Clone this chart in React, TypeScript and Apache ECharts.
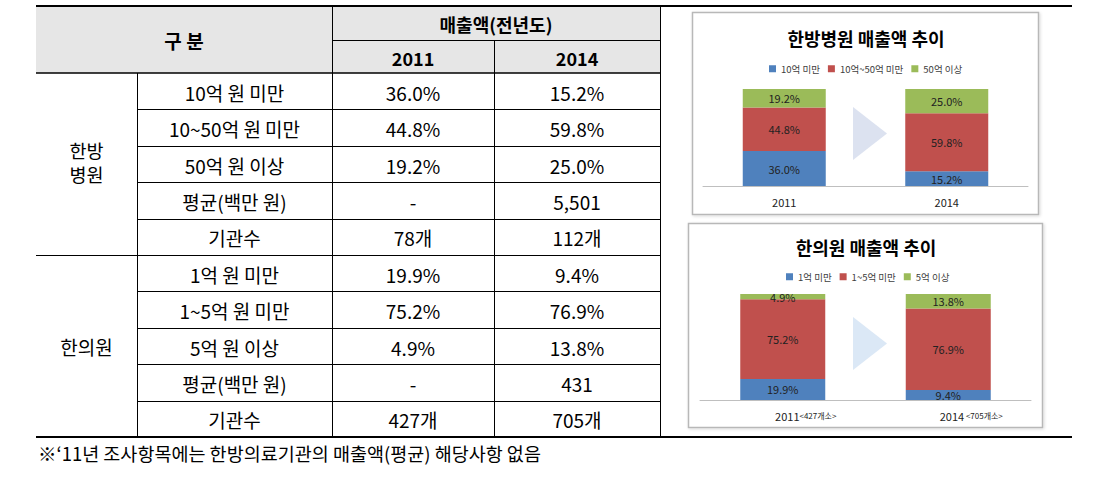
import React, { useEffect, useRef } from "react";
import * as echarts from "echarts";

// ---- Table data ----
const groupLabels = [["한방", "병원"], ["한의원"]];
const rowLabels = [
  "10억 원 미만",
  "10~50억 원 미만",
  "50억 원 이상",
  "평균(백만 원)",
  "기관수",
  "1억 원 미만",
  "1~5억 원 미만",
  "5억 원 이상",
  "평균(백만 원)",
  "기관수",
];
const values2011 = ["36.0%", "44.8%", "19.2%", "-", "78개", "19.9%", "75.2%", "4.9%", "-", "427개"];
const values2014 = ["15.2%", "59.8%", "25.0%", "5,501", "112개", "9.4%", "76.9%", "13.8%", "431", "705개"];
const headerMain = "구 분";
const headerSales = "매출액(전년도)";
const headerYears = ["2011", "2014"];
const footnote = "※‘11년 조사항목에는 한방의료기관의 매출액(평균) 해당사항 없음";

// ---- Chart data ----
const years = ["2011", "2014"];
const hospitalTitle = "한방병원 매출액 추이";
const hospitalLegend = ["10억 미만", "10억~50억 미만", "50억 이상"];
const hospitalUnder10 = [36.0, 15.2];
const hospital10to50 = [44.8, 59.8];
const hospitalOver50 = [19.2, 25.0];

const clinicTitle = "한의원 매출액 추이";
const clinicLegend = ["1억 미만", "1~5억 미만", "5억 이상"];
const clinicCounts = ["<427개소>", " <705개소>"];
const clinicUnder1 = [19.9, 9.4];
const clinic1to5 = [75.2, 76.9];
const clinicOver5 = [4.9, 13.8];

const BLUE = "#4f81bd";
const RED = "#c0504d";
const GREEN = "#9bbb59";
const FONT = "'Noto Sans CJK KR', 'Noto Sans', sans-serif";

function buildTableGraphics(): any[] {
  const els: any[] = [];
  const L = 36, C1 = 137, C2 = 332, C3 = 494, R = 660, FAR = 1072;
  const TOP = 6, HSPLIT = 40, HBOT = 73;
  const rowH = (437 - 73) / 10;
  const rowY = (i: number) => HBOT + rowH * i;
  const BOT = 437;
  const line = (x1: number, y1: number, x2: number, y2: number, w = 1) =>
    els.push({ type: "line", shape: { x1, y1, x2, y2 }, style: { stroke: "#000", lineWidth: w }, z: 5 });
  const text = (t: string, x: number, y: number, size = 19, weight: any = "normal", align = "center") =>
    els.push({
      type: "text",
      x,
      y,
      z: 6,
      style: {
        text: t,
        fill: "#000",
        fontSize: size,
        fontWeight: weight,
        fontFamily: FONT,
        align,
        verticalAlign: "middle",
      },
    });
  // header fill
  els.push({ type: "rect", shape: { x: L, y: TOP, width: R - L, height: HBOT - TOP }, style: { fill: "#e6e6e6" }, z: 1 });
  // horizontal lines
  line(L, TOP, FAR, TOP, 2);
  line(C2, HSPLIT + 0.5, R, HSPLIT + 0.5, 1);
  line(L, HBOT, R, HBOT, 1.5);
  for (let i = 1; i < 10; i++) {
    const y = Math.round(rowY(i)) + 0.5;
    if (i === 5) line(L, y, R, y, 1);
    else line(C1, y, R, y, 1);
  }
  line(L, BOT, FAR, BOT, 2);
  // vertical lines
  line(C1 + 0.5, HBOT, C1 + 0.5, BOT, 1);
  line(C2 + 0.5, TOP, C2 + 0.5, BOT, 1);
  line(C3 + 0.5, HSPLIT, C3 + 0.5, BOT, 1);
  line(R + 0.5, TOP, R + 0.5, BOT, 1);
  // header texts
  text(headerMain, (L + C2) / 2, (TOP + HBOT) / 2 + 1, 19, "bold");
  text(headerSales, (C2 + R) / 2, (TOP + HSPLIT) / 2 + 1, 18, "bold");
  text(headerYears[0], (C2 + C3) / 2, (HSPLIT + HBOT) / 2 + 1, 18, "bold");
  text(headerYears[1], (C3 + R) / 2, (HSPLIT + HBOT) / 2 + 1, 18, "bold");
  // group labels
  const gx = (L + C1) / 2;
  text(groupLabels[0][0], gx, 149.5, 18.5);
  text(groupLabels[0][1], gx, 173.5, 18.5);
  text(groupLabels[1][0], gx, (rowY(5) + rowY(10)) / 2);
  // rows
  for (let i = 0; i < 10; i++) {
    const cy = rowY(i) + rowH / 2 + 1;
    text(rowLabels[i], (C1 + C2) / 2, cy);
    text(values2011[i], (C2 + C3) / 2, cy);
    text(values2014[i], (C3 + R) / 2, cy);
  }
  // footnote
  text(footnote, 38, 453, 18.5, "normal", "left");
  return els;
}

function buildChartGraphics(): any[] {
  const els: any[] = [];
  const box = (x: number, y: number, w: number, h: number) =>
    els.push({
      type: "rect",
      shape: { x, y, width: w, height: h },
      style: { fill: "#fff", stroke: "#b8b8b8", lineWidth: 1.5, shadowBlur: 3, shadowColor: "rgba(0,0,0,0.15)", shadowOffsetX: 1, shadowOffsetY: 1 },
      z: 0,
    });
  box(692.5, 12.5, 346, 202);
  box(688.5, 223.5, 354, 204);
  const title = (t: string, x: number, y: number) =>
    els.push({
      type: "text",
      x,
      y,
      z: 6,
      style: { text: t, fill: "#000", fontSize: 18, fontWeight: "bold", fontFamily: FONT, align: "center", verticalAlign: "middle" },
    });
  title(hospitalTitle, 866, 38);
  title(clinicTitle, 866, 247);
  els.push({
    type: "polygon",
    shape: { points: [[853, 107], [887, 133.5], [853, 160]] },
    style: { fill: "#dce2f0" },
    z: 1,
  });
  els.push({
    type: "polygon",
    shape: { points: [[853, 317], [887, 343.5], [853, 370]] },
    style: { fill: "#dbe8f6" },
    z: 1,
  });
  return els;
}

const segLabel = {
  show: true,
  position: "inside",
  color: "#222",
  fontSize: 11,
  fontFamily: FONT,
  formatter: (p: any) => Number(p.value).toFixed(1) + "%",
};

export default function App() {
  const ref = useRef<HTMLDivElement>(null);
  useEffect(() => {
    if (!ref.current) return;
    const chart = echarts.init(ref.current, undefined, { renderer: "svg" });
    const mkSeries = (name: string, data: number[], color: string, idx: number, stack: string, bw: number) => ({
      name,
      type: "bar",
      stack,
      data,
      xAxisIndex: idx,
      yAxisIndex: idx,
      barWidth: bw,
      itemStyle: { color },
      label: segLabel,
    });
    const legendBase = {
      padding: 0,
      icon: "rect",
      itemWidth: 7,
      itemHeight: 7,
      itemGap: 8,
      textStyle: { fontSize: 9.5, color: "#404040", fontFamily: FONT },
    };
    chart.setOption({
      animation: false,
      backgroundColor: "#fff",
      textStyle: { fontFamily: FONT },
      legend: [
        { ...legendBase, data: hospitalLegend, left: 769, top: 64 },
        { ...legendBase, data: clinicLegend, left: 786, top: 272 },
      ],
      grid: [
        { left: 703, top: 89, width: 325, height: 97, containLabel: false },
        { left: 700, top: 294, width: 331, height: 106, containLabel: false },
      ],
      xAxis: [
        {
          type: "category",
          gridIndex: 0,
          data: years,
          axisTick: { show: false },
          axisLine: { lineStyle: { color: "#bfbfbf" } },
          axisLabel: { color: "#222", fontSize: 11, margin: 10, fontFamily: FONT },
        },
        {
          type: "category",
          gridIndex: 1,
          data: years,
          axisTick: { show: false },
          axisLine: { lineStyle: { color: "#bfbfbf" } },
          axisLabel: {
            color: "#222",
            margin: 10,
            padding: [0, 0, 0, 46],
            formatter: (v: string, i: number) => `{y|${v}}{c|${clinicCounts[i]}}`,
            rich: {
              y: { fontSize: 11, fontFamily: FONT, color: "#222" },
              c: { fontSize: 8, fontFamily: FONT, color: "#222" },
            },
          },
        },
      ],
      yAxis: [
        { type: "value", gridIndex: 0, min: 0, max: 100, show: false },
        { type: "value", gridIndex: 1, min: 0, max: 100.1, show: false },
      ],
      series: [
        mkSeries(hospitalLegend[0], hospitalUnder10, BLUE, 0, "h", 83),
        mkSeries(hospitalLegend[1], hospital10to50, RED, 0, "h", 83),
        mkSeries(hospitalLegend[2], hospitalOver50, GREEN, 0, "h", 83),
        mkSeries(clinicLegend[0], clinicUnder1, BLUE, 1, "c", 85),
        mkSeries(clinicLegend[1], clinic1to5, RED, 1, "c", 85),
        mkSeries(clinicLegend[2], clinicOver5, GREEN, 1, "c", 85),
      ],
      graphic: [...buildChartGraphics(), ...buildTableGraphics()],
    });
    return () => chart.dispose();
  }, []);
  return (
    <div
      ref={ref}
      style={{ position: "fixed", left: 0, top: 0, width: 1111, height: 486, background: "#fff" }}
    />
  );
}
